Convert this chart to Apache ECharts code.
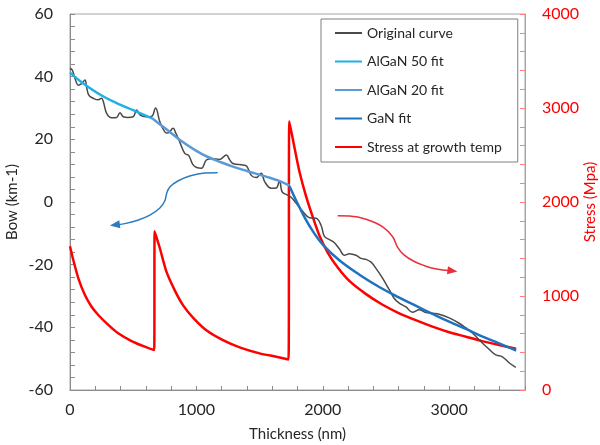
<!DOCTYPE html>
<html>
<head>
<meta charset="utf-8">
<script src="https://cdn.jsdelivr.net/npm/echarts@6/dist/echarts.min.js"></script>
<style>
html,body{margin:0;padding:0;background:#fff;}
#chart{width:600px;height:445px;}
</style>
</head>
<body>
<div id="chart"></div>
<script>
// ---- Data ----
var xTicksLabelled = [0, 1000, 2000, 3000];
var bowTickLabels = [-60, -40, -20, 0, 20, 40, 60];
var stressTickLabels = [0, 1000, 2000, 3000, 4000];

var origX = [0,18,39,66,92,118,132,150,184,223,250,264,290,329,369,395,421,458,500,527,553,600,645,677,711,750,774,816,837,868,908,940,971,1003,1040,1079,1119,1184,1237,1263,1289,1368,1397,1434,1474,1513,1540,1592,1632,1658,1679,1721,1750,1790,1842,1895,1948,1987,2013,2053,2092,2132,2171,2211,2263,2303,2342,2382,2421,2474,2526,2566,2605,2658,2710,2763,2816,2868,2921,3000,3079,3132,3184,3250,3316,3369,3421,3474,3527];
var origY = [42.7,42.1,39.5,37.3,37.8,38.9,36.5,34.0,33.1,32.6,33.1,32.0,28.3,26.9,27.0,28.5,27.2,27.0,27.2,29.4,27.8,27.2,27.3,30.0,25.6,22.4,22.0,23.5,22.0,19.2,15.5,14.8,12.0,11.0,10.8,13.4,13.8,13.6,15.0,13.5,12.3,11.8,11.5,8.5,7.8,9.2,6.5,4.4,4.5,6.8,3.2,2.2,1.5,-0.4,-3.0,-5.0,-5.2,-7.5,-11.0,-12.0,-13.0,-15.0,-17.0,-16.5,-17.0,-18.0,-18.3,-19.2,-21.2,-24.4,-28.0,-30.8,-32.3,-33.5,-35.2,-34.4,-35.3,-35.5,-35.8,-37.0,-38.7,-40.2,-41.8,-44.5,-47.0,-48.8,-49.4,-51.3,-52.8];

var algan50X = [0,100,250,400,500,650];
var algan50Y = [41.3,38.0,34.0,31.0,29.3,26.7];

var algan20X = [650,750,870,1000,1079,1200,1289,1400,1552,1650,1737];
var algan20Y = [26.7,23.6,19.8,16.3,14.6,12.6,11.3,9.9,8.1,6.8,5.2];

var ganX = [1737,1790,1855,1921,2000,2131,2290,2450,2605,2750,2868,3000,3132,3260,3395,3530];
var ganY = [5.0,0.4,-4.8,-9.3,-13.6,-18.6,-23.2,-27.2,-30.5,-33.4,-35.7,-38.2,-40.5,-42.9,-45.1,-47.4];

var stressX = [0,26,66,118,171,224,303,381,487,592,666,670,711,763,829,895,973,1079,1210,1342,1500,1632,1729,1735,1776,1816,1868,1921,1974,2040,2120,2210,2342,2470,2605,2740,2868,3000,3132,3260,3395,3530];
var stressY = [1530,1383,1188,1011,886,798,692,603,521,461,426,1690,1508,1259,1060,900,770,635,530,454,390,354,325,2860,2580,2320,2060,1840,1640,1460,1300,1160,1020,910,816,740,674,615,567,520,479,440];

var blueArrowX = [1168,1066,947,853,790,766,750,711,632,537,434,355];
var blueArrowY = [9.35,9.25,8.3,6.7,4.8,2.9,0.3,-1.9,-4.2,-5.8,-6.9,-7.3];

var redArrowX = [2118,2211,2342,2474,2553,2590,2640,2720,2810,2900,2970,3026];
var redArrowY = [-4.4,-4.5,-5.5,-7.9,-11.1,-14.3,-16.8,-18.9,-20.4,-21.4,-21.8,-22.0];

function pairs(xs, ys){ return xs.map(function(x,i){ return [x, ys[i]]; }); }
function arrowData(xs, ys, rot){
  var d = pairs(xs, ys).map(function(p){ return {value:p, symbol:'none'}; });
  d[d.length-1] = {value:[xs[xs.length-1], ys[ys.length-1]], symbol:'triangle', symbolSize:[8,10], symbolRotate:rot};
  return d;
}

var FONT = 'Lato';
var chart = echarts.init(document.getElementById('chart'), null, {renderer:'canvas'});
var option = {
  backgroundColor:'#ffffff',
  animation:false,
  textStyle:{fontFamily:FONT},
  grid:{left:70, right:75, top:14, bottom:55, show:true, borderColor:'#a6a6a6', borderWidth:1, backgroundColor:'transparent', containLabel:false, outerBoundsMode:'none'},
  legend:{
    orient:'vertical', left:321, top:19,
    data:['Original curve','AlGaN 50 fit','AlGaN 20 fit','GaN fit','Stress at growth temp'],
    itemWidth:27, itemHeight:14, itemGap:14.5,
    padding:[7,16,8,14],
    borderColor:'#7f7f7f', borderWidth:1, backgroundColor:'#ffffff',
    icon:'path://M0,6 L27,6 L27,8 L0,8 Z',
    textStyle:{fontFamily:FONT, fontSize:14, color:'#262626'}
  },
  xAxis:{
    type:'value', min:0, max:3600, interval:200,
    name:'Thickness (nm)', nameLocation:'middle', nameGap:37, nameMoveOverlap:false,
    nameTextStyle:{fontFamily:FONT, fontSize:15, color:'#262626'},
    axisLine:{show:true, onZero:false, lineStyle:{color:'#8c8c8c', width:1}},
    axisTick:{show:true, inside:true, length:4, lineStyle:{color:'#8c8c8c'}},
    axisLabel:{fontFamily:FONT, fontSize:16, color:'#262626', margin:12,
      formatter:function(v){ return xTicksLabelled.indexOf(v) >= 0 ? String(v) : ''; }},
    splitLine:{show:false}
  },
  yAxis:[{
    type:'value', min:-60, max:60, interval:4, position:'left',
    name:'Bow (km-1)', nameLocation:'middle', nameGap:50, nameRotate:90, nameMoveOverlap:false,
    nameTextStyle:{fontFamily:FONT, fontSize:15, color:'#262626'},
    axisLine:{show:true, onZero:false, lineStyle:{color:'#8c8c8c', width:1}},
    axisTick:{show:true, inside:true, length:5, lineStyle:{color:'#8c8c8c'}},
    axisLabel:{fontFamily:FONT, fontSize:16, color:'#262626', margin:17,
      formatter:function(v){ return bowTickLabels.indexOf(v) >= 0 ? String(v) : ''; }},
    splitLine:{show:false}
  },{
    type:'value', min:0, max:4000, interval:200, position:'right',
    name:'Stress (Mpa)', nameLocation:'middle', nameGap:58, nameRotate:90, nameMoveOverlap:false,
    nameTextStyle:{fontFamily:FONT, fontSize:15, color:'#ff0000'},
    axisLine:{show:true, onZero:false, lineStyle:{color:'#ff7f7f', width:1}},
    axisTick:{show:true, inside:true, length:5, lineStyle:{color:'#ff7f7f'}},
    axisLabel:{fontFamily:FONT, fontSize:16, color:'#ff0000', margin:17,
      formatter:function(v){ return stressTickLabels.indexOf(v) >= 0 ? String(v) : ''; }},
    splitLine:{show:false}
  }],
  series:[
    {name:'Stress at growth temp', type:'line', yAxisIndex:1, data:pairs(stressX, stressY),
      showSymbol:false, smooth:0.25, itemStyle:{color:'#ff0000'}, lineStyle:{color:'#ff0000', width:2.5}, z:2},
    {name:'Original curve', type:'line', data:pairs(origX, origY),
      showSymbol:false, smooth:0.4, itemStyle:{color:'#4a4a4a'}, lineStyle:{color:'#4a4a4a', width:1.5}, z:3},
    {name:'AlGaN 50 fit', type:'line', data:pairs(algan50X, algan50Y),
      showSymbol:false, smooth:0.4, itemStyle:{color:'#1fb0e8'}, lineStyle:{color:'#1fb0e8', width:2.5}, z:4},
    {name:'AlGaN 20 fit', type:'line', data:pairs(algan20X, algan20Y),
      showSymbol:false, smooth:0.4, itemStyle:{color:'#5b9bd5'}, lineStyle:{color:'#5b9bd5', width:2.5}, z:4},
    {name:'GaN fit', type:'line', data:pairs(ganX, ganY),
      showSymbol:false, smooth:0.4, itemStyle:{color:'#1f72c0'}, lineStyle:{color:'#1f72c0', width:2.5}, z:4},
    {name:'arrowBlue', type:'line', data:arrowData(blueArrowX, blueArrowY, 98),
      smooth:0.4, itemStyle:{color:'#2e7cc0'}, lineStyle:{color:'#2e7cc0', width:1.5}, z:5, silent:true},
    {name:'arrowRed', type:'line', data:arrowData(redArrowX, redArrowY, -97),
      smooth:0.4, itemStyle:{color:'#e8303c'}, lineStyle:{color:'#e8303c', width:1.5}, z:5, silent:true}
  ]
};
chart.setOption(option);
</script>
</body>
</html>
